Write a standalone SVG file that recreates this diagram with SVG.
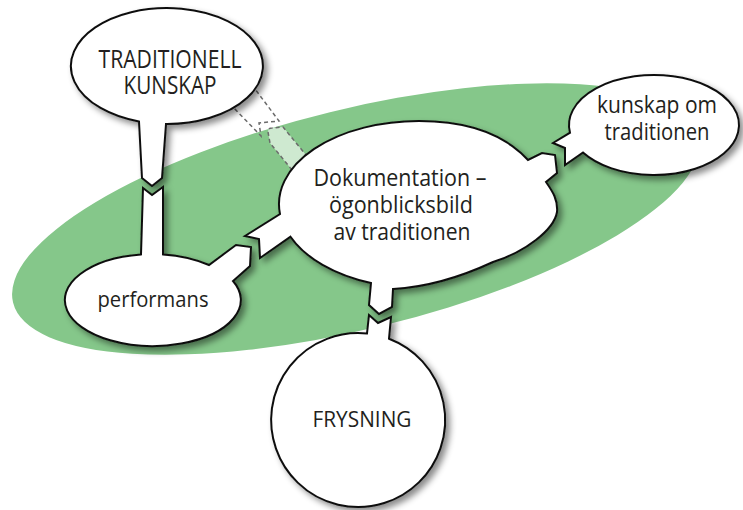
<svg xmlns="http://www.w3.org/2000/svg" width="743" height="510" viewBox="0 0 743 510">
  <defs>
    <filter id="drop" x="-20%" y="-20%" width="140%" height="140%">
      <feDropShadow dx="4" dy="4" stdDeviation="3" flood-color="#000" flood-opacity="0.45"/>
    </filter>
    <style>
      .bubble{fill:#fff;stroke:#111;stroke-width:2;stroke-linejoin:miter;filter:url(#drop)}
      .label{font-family:"Open Sans","Noto Sans","DejaVu Sans",sans-serif;fill:#231f20;text-anchor:middle}
      .ghost{stroke:#6b6b6b;stroke-width:1.5;stroke-dasharray:4 3;fill:none}
      .ghost-fill{fill:#fff;fill-opacity:0.6;stroke:none}
    </style>
  </defs>

  <rect width="743" height="510" fill="#fff"/>

  <!-- green field behind the bubbles -->
  <ellipse id="field" cx="356" cy="219" rx="353" ry="110" transform="rotate(-13.7 356 219)" fill="#85c78a"/>

  <!-- dashed (implicit) link between TRADITIONELL KUNSKAP and Dokumentation -->
  <g id="connectors">
    <path class="ghost-fill" d="M292,170 L270,143 L268,132 Q268,128 272,128 L283,127 L306,155 L330,175 Z"/>
    <path class="ghost" d="M292,170 L270,143 L268,132 Q268,128 272,128 L283,127 L306,155"/>
    <path class="ghost" d="M252,85 L279,121 L259,123 L261,136 L231,105"/>
  </g>

  <g id="node-traditionell-kunskap">
    <path class="bubble" d="M166,124 A96,58 0 1 0 139,121.5 L142,178 L152,186 L162,178 Z"/>
    <text class="label" x="170" y="68" font-size="25" textLength="143" lengthAdjust="spacingAndGlyphs">TRADITIONELL</text>
    <text class="label" x="170" y="94" font-size="25" textLength="93" lengthAdjust="spacingAndGlyphs">KUNSKAP</text>
  </g>

  <g id="node-performans">
    <path class="bubble" d="M141,254.4 L143,188 L152,195 L163,187 L163,254.4 A88,46 0 0 1 209,265 L236,245 L251,247 L250,266 L233,281 A88,46 0 1 1 141,254.4 Z"/>
    <text class="label" x="153" y="307" font-size="22" textLength="111" lengthAdjust="spacingAndGlyphs">performans</text>
  </g>

  <g id="node-dokumentation">
    <path class="bubble" d="M419,121 C470,121 505,135 528,160 L542,153 L555,155 L557,173 L546,182 C553,192 558,200 557,212 C554,230 525,252 493,262 C465,275 430,287 393,289 L392,307 L379,314 L369,305 L371,283 A140,83 0 0 1 290.5,236.7 L260,258 L259,239 L245,236 L280,214 A140,83 0 0 1 419,121 Z"/>
    <text class="label" x="400" y="186" font-size="23" textLength="173" lengthAdjust="spacingAndGlyphs">Dokumentation –</text>
    <text class="label" x="401" y="213" font-size="23" textLength="144" lengthAdjust="spacingAndGlyphs">ögonblicksbild</text>
    <text class="label" x="402" y="240" font-size="23" textLength="137" lengthAdjust="spacingAndGlyphs">av traditionen</text>
  </g>

  <g id="node-kunskap-om-traditionen">
    <path class="bubble" d="M570,132.7 A85,50 0 1 1 583,152.5 L565,165 L565,148 L553,143 Z"/>
    <text class="label" x="657" y="113" font-size="23" textLength="120" lengthAdjust="spacingAndGlyphs">kunskap om</text>
    <text class="label" x="657" y="140" font-size="23" textLength="105" lengthAdjust="spacingAndGlyphs">traditionen</text>
  </g>

  <g id="node-frysning">
    <path class="bubble" d="M389,338.7 A87,87 0 1 1 367,333.5 L369,315 L378,323 L391,317 Z"/>
    <text class="label" x="362" y="427" font-size="22" textLength="99" lengthAdjust="spacingAndGlyphs">FRYSNING</text>
  </g>
</svg>
